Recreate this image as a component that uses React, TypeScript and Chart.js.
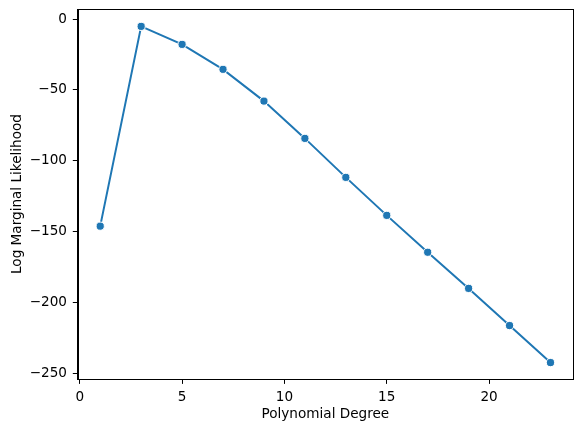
import React, { useEffect, useRef } from "react";
import { Chart, registerables } from "chart.js";

Chart.register(...registerables);

const degrees = [1, 3, 5, 7, 9, 11, 13, 15, 17, 19, 21, 23];
const logMarginalLikelihood = [-146.1, -5.2, -17.9, -35.5, -57.9, -84.2, -111.7, -138.5, -164.5, -190.0, -216.2, -242.3];
const xTickValues = [0, 5, 10, 15, 20];
const yTickValues = [-250, -200, -150, -100, -50, 0];
const xTitle = "Polynomial Degree";
const yTitle = "Log Marginal Likelihood";

const FONT = { family: "'DejaVu Sans', sans-serif", size: 13.6 };
const BLUE = "#1f77b4";

const framePlugin = {
  id: "frame",
  afterDraw(chart: any) {
    const { ctx, chartArea } = chart;
    ctx.save();
    ctx.strokeStyle = "#000";
    ctx.lineWidth = 1;
    ctx.strokeRect(
      Math.round(chartArea.left) + 0.5,
      Math.round(chartArea.top) + 0.5,
      Math.round(chartArea.right - chartArea.left),
      Math.round(chartArea.bottom - chartArea.top)
    );
    ctx.restore();
  },
};

const fmt = (v: any) => String(v).replace("-", "\u2212");

export default function App() {
  const ref = useRef<HTMLCanvasElement>(null);
  useEffect(() => {
    if (!ref.current) return;
    const chart = new Chart(ref.current, {
      type: "line",
      data: {
        datasets: [
          {
            data: degrees.map((d, i) => ({ x: d, y: logMarginalLikelihood[i] })),
            borderColor: BLUE,
            backgroundColor: BLUE,
            borderWidth: 2,
            pointRadius: 4.1,
            pointBackgroundColor: BLUE,
            pointBorderColor: "#fff",
            pointBorderWidth: 1,
            tension: 0,
          },
        ],
      },
      options: {
        responsive: false,
        animation: false,
        layout: { padding: { top: 9, right: 10, left: 0, bottom: 0 } },
        plugins: { legend: { display: false }, tooltip: { enabled: false } },
        scales: {
          x: {
            type: "linear",
            min: -0.1,
            max: 24.1,
            afterBuildTicks: (s: any) => {
              s.ticks = xTickValues.map((v) => ({ value: v }));
            },
            afterFit: (s: any) => {
              s.height = 53;
              s.paddingLeft = 0;
              s.paddingRight = 0;
            },
            grid: { drawOnChartArea: false, drawTicks: true, tickLength: 4.9, tickColor: "#000", tickWidth: 1 },
            border: { display: true, color: "#000", width: 1 },
            ticks: { color: "#000", font: FONT, padding: 5.5, maxRotation: 0, callback: (v: any) => fmt(v) },
            title: { display: true, text: xTitle, color: "#000", font: FONT, padding: { top: 0, bottom: 9.8 } },
          },
          y: {
            type: "linear",
            min: -253.9,
            max: 7.06,
            afterBuildTicks: (s: any) => {
              s.ticks = yTickValues.map((v) => ({ value: v }));
            },
            afterFit: (s: any) => {
              s.width = 77.7;
              s.paddingTop = 0;
              s.paddingBottom = 0;
            },
            grid: { drawOnChartArea: false, drawTicks: true, tickLength: 4.9, tickColor: "#000", tickWidth: 1 },
            border: { display: true, color: "#000", width: 1 },
            ticks: { color: "#000", font: FONT, padding: 5.8, callback: (v: any) => fmt(v) },
            title: { display: true, text: yTitle, color: "#000", font: FONT, padding: { top: 9.3, bottom: 0 } },
          },
        },
      },
      plugins: [framePlugin],
    } as any);
    return () => chart.destroy();
  }, []);
  return (
    <div style={{ position: "absolute", left: 0, top: 0, width: 583, height: 432, background: "#fff" }}>
      <canvas ref={ref} width={583} height={432} style={{ display: "block", width: 583, height: 432 }} />
    </div>
  );
}
